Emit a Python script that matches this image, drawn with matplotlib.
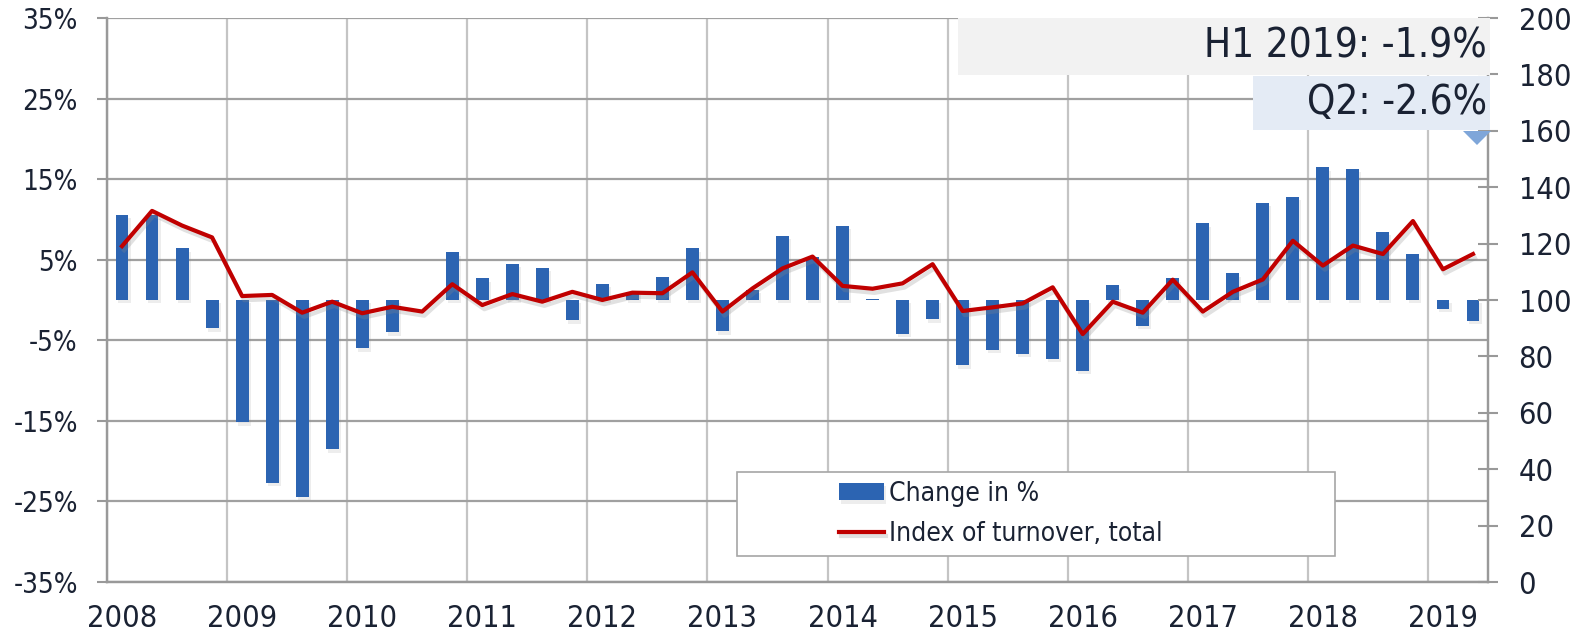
import numpy as np
import matplotlib.pyplot as plt
import matplotlib.patheffects as pe
from matplotlib.patches import Rectangle, Polygon

plt.rcParams['font.family'] = ['DejaVu Sans']
plt.rcParams['font.stretch'] = 'condensed'

# 数据：2008Q1 - 2019Q2 季度
years = [str(y) for y in range(2008, 2020)]
change_pct = [10.6, 10.5, 6.4, -3.5,
              -15.2, -22.7, -24.4, -18.5,
              -6.0, -4.0, 0.0, 5.9,
              2.7, 4.5, 4.0, -2.5,
              2.0, 1.0, 2.8, 6.4,
              -3.9, 1.3, 8.0, 5.3,
              9.2, 0.1, -4.2, -2.4,
              -8.1, -6.2, -6.7, -7.3,
              -8.8, 1.8, -3.2, 2.7,
              9.5, 3.3, 12.1, 12.8,
              16.5, 16.3, 8.5, 5.7,
              -1.1, -2.6]
turnover_index = [119.1, 131.6, 126.4, 122.2,
                  101.4, 101.8, 95.5, 99.4,
                  95.3, 97.6, 95.9, 105.6,
                  98.2, 102.1, 99.4, 102.9,
                  100.0, 102.6, 102.4, 109.8,
                  95.9, 104.1, 111.2, 115.4,
                  105.0, 104.0, 105.9, 112.7,
                  96.1, 97.4, 98.8, 104.5,
                  87.9, 99.4, 95.5, 107.2,
                  95.9, 102.9, 107.3, 121.0,
                  112.2, 119.3, 116.3, 128.0,
                  110.9, 116.3]
pct_ticks = list(range(-35, 36, 10))
idx_ticks = list(range(0, 201, 20))

blue = '#2c64b2'
red = '#c00000'
txt = '#1a2233'

W, H = 1571, 640
fig = plt.figure(figsize=(W / 100, H / 100), dpi=100)
ax = fig.add_axes([107 / W, 1 - 582 / H, (1488 - 107) / W, (582 - 18) / H])
ax2 = ax.twinx()

n = len(change_pct)
x = np.arange(n) + 0.5

bars = ax.bar(x, change_pct, width=0.43, color=blue, zorder=3, label='Change in %')
for b in bars:
    b.set_path_effects([pe.SimplePatchShadow(offset=(1.5, -2.5), shadow_rgbFace='#888888', alpha=0.15), pe.Normal()])

line, = ax2.plot(x, turnover_index, color=red, lw=3, zorder=3, label='Index of turnover, total',
                 path_effects=[pe.SimpleLineShadow(offset=(1.5, -3), shadow_color='#888888', alpha=0.25), pe.Normal()])

ax.set_xlim(0, n)
ax.set_ylim(-35, 35)
ax2.set_ylim(0, 200)

ax.set_yticks(pct_ticks)
ax.set_yticklabels([f'{v}%' for v in pct_ticks])
ax2.set_yticks(idx_ticks)

ax.set_xticks(np.arange(len(years)) * 4 + 0.5)
ax.set_xticklabels(years)
ax.set_xticks(np.arange(len(years)) * 4, minor=True)

ax.grid(axis='y', color='#a0a0a0', lw=1.6, zorder=0)
ax.grid(axis='x', which='minor', color='#c4c4c4', lw=1.6, zorder=0)
ax.set_axisbelow(True)

ax.tick_params(axis='x', which='major', length=0, pad=16, labelsize=22, labelcolor=txt)
ax.tick_params(axis='x', which='minor', length=0)
ax.tick_params(axis='y', length=7, width=1.5, color='#999999', pad=14, labelsize=20, labelcolor=txt)
ax2.tick_params(axis='y', direction='inout', length=14, width=1.5, color='#999999', pad=15,
                labelsize=22, labelcolor=txt)

for a in (ax, ax2):
    a.spines['top'].set_visible(False)
    for s in ('left', 'right', 'bottom'):
        a.spines[s].set_color('#999999')
        a.spines[s].set_linewidth(1.6)

# 标注框
tf = fig.transFigure
ax2.add_patch(Rectangle((958 / W, 1 - 75 / H), (1490 - 958) / W, 57 / H, transform=tf,
                        facecolor='#f2f2f2', edgecolor='none', zorder=6, clip_on=False))
ax2.add_patch(Rectangle((1253 / W, 1 - 130 / H), (1490 - 1253) / W, 54 / H, transform=tf,
                        facecolor='#e4ebf5', edgecolor='none', zorder=6, clip_on=False))
ax2.add_patch(Polygon([(1463 / W, 1 - 131 / H), (1491 / W, 1 - 131 / H), (1477 / W, 1 - 145 / H)],
                      closed=True, transform=tf, facecolor='#7fa6d9', edgecolor='none',
                      zorder=6, clip_on=False))
fig.text(1487 / W, 1 - 47 / H, 'H1 2019: -1.9%', ha='right', va='center', fontsize=29, color=txt, zorder=7)
fig.text(1487 / W, 1 - 103 / H, 'Q2: -2.6%', ha='right', va='center', fontsize=29, color=txt, zorder=7)

# 图例
ax2.add_patch(Rectangle((737 / W, 1 - 556 / H), (1335 - 737) / W, (556 - 472) / H, transform=tf,
                        facecolor='white', edgecolor='#a6a6a6', lw=1.2, zorder=6, clip_on=False))
leg = ax2.legend([bars, line], ['Change in %', 'Index of turnover, total'],
                 loc='center left', bbox_to_anchor=(826 / W, 1 - 514 / H), bbox_transform=tf,
                 frameon=False, fontsize=19, handlelength=1.7, handleheight=0.65,
                 handletextpad=0.2, labelspacing=0.55, borderpad=0)
leg.set_zorder(8)
for t in leg.get_texts():
    t.set_color(txt)

fig.savefig('out.png', dpi=100)
